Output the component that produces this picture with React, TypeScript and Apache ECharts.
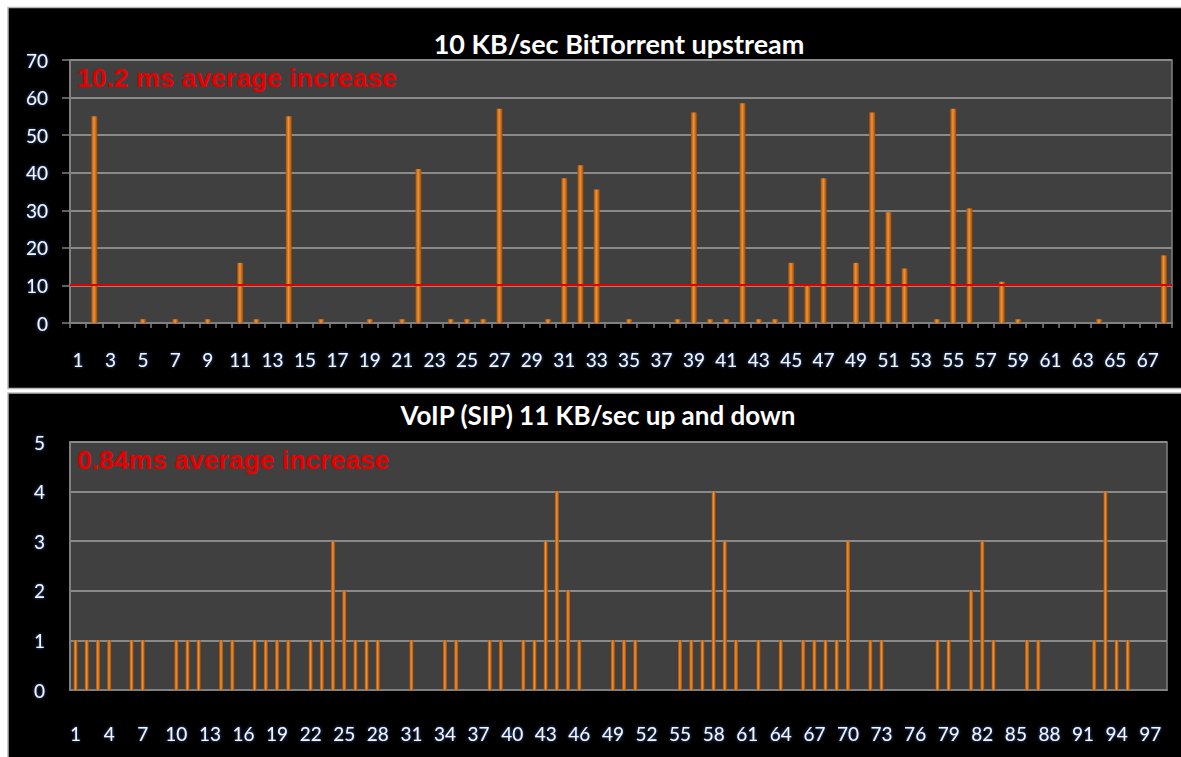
import React, { useEffect, useRef } from "react";
import * as echarts from "echarts";

const topTitle = "10 KB/sec BitTorrent upstream";
const bottomTitle = "VoIP (SIP) 11 KB/sec up and down";
const topNote = "10.2 ms average increase";
const bottomNote = "0.84ms average increase";
const topAverage = 10.2;

const topValues = [
  0, 55, 0, 0, 1, 0, 1, 0, 1, 0,
  16, 1, 0, 55, 0, 1, 0, 0, 1, 0,
  1, 41, 0, 1, 1, 1, 57, 0, 0, 1,
  38.5, 42, 35.5, 0, 1, 0, 0, 1, 56, 1,
  1, 58.5, 1, 1, 16, 10, 38.5, 0, 16, 56,
  29.5, 14.5, 0, 1, 57, 30.5, 0, 11, 1, 0,
  0, 0, 0, 1, 0, 0, 0, 18,
];

const bottomValues = [
  1, 1, 1, 1, 0, 1, 1, 0, 0, 1,
  1, 1, 0, 1, 1, 0, 1, 1, 1, 1,
  0, 1, 1, 3, 2, 1, 1, 1, 0, 0,
  1, 0, 0, 1, 1, 0, 0, 1, 1, 0,
  1, 1, 3, 4, 2, 1, 0, 0, 1, 1,
  1, 0, 0, 0, 1, 1, 1, 4, 3, 1,
  0, 1, 0, 1, 0, 1, 1, 1, 1, 3,
  0, 1, 1, 0, 0, 0, 0, 1, 1, 0,
  2, 3, 1, 0, 0, 1, 1, 0, 0, 0,
  0, 1, 4, 1, 1, 0, 0, 0,
];

const topCategories = topValues.map((_, i) => String(i + 1));
const bottomCategories = bottomValues.map((_, i) => String(i + 1));

const topYTicks = { min: 0, max: 70, interval: 10 };
const bottomYTicks = { min: 0, max: 5, interval: 1 };

const GRAY = "#808080";
const labelStyle = {
  color: "#f2f6ff",
  fontFamily: "Lato",
  fontSize: 19,
  textShadowColor: "rgba(70,120,220,0.9)",
  textShadowBlur: 3,
};

const barColor = {
  type: "linear",
  x: 0,
  y: 0,
  x2: 1,
  y2: 0,
  colorStops: [
    { offset: 0, color: "#a24c0a" },
    { offset: 0.45, color: "#f39430" },
    { offset: 1, color: "#9a4708" },
  ],
};

export default function App() {
  const ref = useRef<HTMLDivElement>(null);
  useEffect(() => {
    if (!ref.current) return;
    const chart = echarts.init(ref.current, null, { renderer: "svg" });
    const option: any = {
      animation: false,
      backgroundColor: "#ffffff",
      graphic: [
        {
          type: "rect",
          z: -10,
          shape: { x: 8, y: 7.5, width: 1180, height: 381 },
          style: { fill: "#000000", stroke: "#b8b8b8", lineWidth: 1.5 },
        },
        {
          type: "rect",
          z: -10,
          shape: { x: 8, y: 393, width: 1180, height: 370 },
          style: { fill: "#000000", stroke: "#b8b8b8", lineWidth: 1.5 },
        },
        {
          type: "text",
          z: 50,
          x: 619,
          y: 43,
          style: {
            text: topTitle,
            fill: "#ffffff",
            font: "bold 27px Lato",
            textAlign: "center",
            textVerticalAlign: "middle",
            shadowColor: "rgba(70,120,220,0.9)",
            shadowBlur: 3,
          },
        },
        {
          type: "text",
          z: 50,
          x: 598,
          y: 415,
          style: {
            text: bottomTitle,
            fill: "#ffffff",
            font: "bold 26px Lato",
            textAlign: "center",
            textVerticalAlign: "middle",
            shadowColor: "rgba(70,120,220,0.9)",
            shadowBlur: 3,
          },
        },
        {
          type: "text",
          z: 50,
          x: 77,
          y: 78,
          style: {
            text: topNote,
            fill: "#e60000",
            font: "bold 26.5px 'Liberation Sans'",
            textAlign: "left",
            textVerticalAlign: "middle",
          },
        },
        {
          type: "text",
          z: 50,
          x: 77,
          y: 460,
          style: {
            text: bottomNote,
            fill: "#e60000",
            font: "bold 26.5px 'Liberation Sans'",
            textAlign: "left",
            textVerticalAlign: "middle",
          },
        },
      ],
      grid: [
        {
          left: 70,
          top: 60,
          width: 1102,
          height: 263,
          show: true,
          backgroundColor: "#404040",
          borderColor: GRAY,
          borderWidth: 1.5,
        },
        {
          left: 70,
          top: 442,
          width: 1097,
          height: 248,
          show: true,
          backgroundColor: "#404040",
          borderColor: GRAY,
          borderWidth: 1.5,
        },
      ],
      xAxis: [
        {
          type: "category",
          gridIndex: 0,
          data: topCategories,
          axisLine: { show: true, lineStyle: { color: GRAY, width: 2 } },
          axisTick: { show: true, length: 5, interval: 0, lineStyle: { color: GRAY, width: 1.5 } },
          axisLabel: { ...labelStyle, interval: 1, margin: 27 },
        },
        {
          type: "category",
          gridIndex: 1,
          data: bottomCategories,
          axisLine: { show: true, lineStyle: { color: GRAY, width: 2 } },
          axisTick: { show: false },
          axisLabel: { ...labelStyle, interval: 2, margin: 34 },
        },
      ],
      yAxis: [
        {
          type: "value",
          gridIndex: 0,
          ...topYTicks,
          axisLine: { show: true, lineStyle: { color: GRAY, width: 2 } },
          axisTick: { show: true, length: 8, lineStyle: { color: GRAY, width: 1.5 } },
          axisLabel: { ...labelStyle, margin: 22 },
          splitLine: { show: true, lineStyle: { color: "#8a8a8a", width: 2 } },
        },
        {
          type: "value",
          gridIndex: 1,
          ...bottomYTicks,
          axisLine: { show: true, lineStyle: { color: GRAY, width: 2 } },
          axisTick: { show: false },
          axisLabel: { ...labelStyle, margin: 25 },
          splitLine: { show: true, lineStyle: { color: "#8a8a8a", width: 2 } },
        },
      ],
      series: [
        {
          type: "bar",
          xAxisIndex: 0,
          yAxisIndex: 0,
          data: topValues,
          barWidth: 6,
          itemStyle: { color: barColor },
          markLine: {
            silent: true,
            symbol: "none",
            label: { show: false },
            lineStyle: { color: "#e00000", width: 2, type: "solid" },
            data: [{ yAxis: topAverage }],
          },
        },
        {
          type: "bar",
          xAxisIndex: 1,
          yAxisIndex: 1,
          data: bottomValues,
          barWidth: 4,
          itemStyle: { color: barColor },
        },
      ],
    };
    chart.setOption(option);
    return () => chart.dispose();
  }, []);
  return (
    <div
      ref={ref}
      style={{ position: "absolute", left: 0, top: 0, width: 1181, height: 757 }}
    />
  );
}
